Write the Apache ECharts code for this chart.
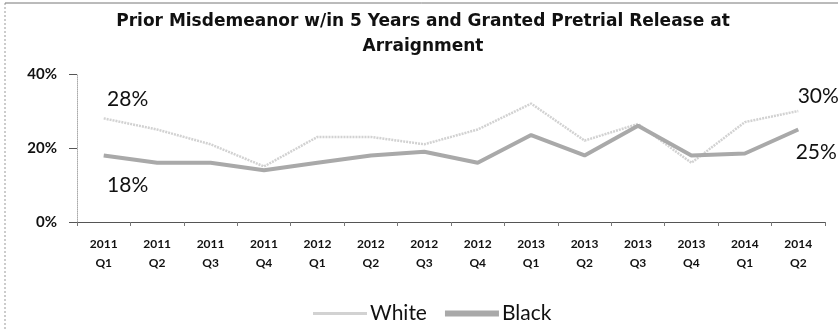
<!DOCTYPE html>
<html><head><meta charset="utf-8">
<script src="https://cdn.jsdelivr.net/npm/echarts@6/dist/echarts.min.js"></script>
<style>html,body{margin:0;padding:0;background:#fff}#c{width:838px;height:329px}</style>
</head><body><div id="c"></div>
<script>
const categories = ['2011\nQ1','2011\nQ2','2011\nQ3','2011\nQ4','2012\nQ1','2012\nQ2','2012\nQ3','2012\nQ4','2013\nQ1','2013\nQ2','2013\nQ3','2013\nQ4','2014\nQ1','2014\nQ2'];
const white = [28, 25, 21, 15, 23, 23, 21, 25, 32, 22, 26.5, 16, 27, 30];
const black = [18, 16, 16, 14, 16, 18, 19, 16, 23.5, 18, 26, 18, 18.5, 25];
const yTicks = [0, 20, 40];
const titleText = 'Prior Misdemeanor w/in 5 Years and Granted Pretrial Release at\nArraignment';

const FONT = 'Lato, "Open Sans", sans-serif';
function withEndLabels(arr, firstPos, lastPos) {
  return arr.map((v, i) => {
    if (i === 0 || i === arr.length - 1) {
      const pos = i === 0 ? firstPos : lastPos;
      return { value: v, label: { show: true, position: pos.p, offset: pos.o,
        formatter: p => Math.round(p.value) + '%', fontSize: 21, color: '#111', fontFamily: FONT } };
    }
    return v;
  });
}
const chart = echarts.init(document.getElementById('c'), null, { renderer: 'canvas' });
chart.setOption({
  animation: false,
  backgroundColor: '#fff',
  title: { text: titleText, left: 418, textAlign: 'center', top: 4,
    textStyle: { fontFamily: '"DejaVu Sans", sans-serif', fontWeight: 'bold', fontSize: 17, lineHeight: 25, color: '#111' } },
  legend: { top: 298, left: 308, itemWidth: 54, itemHeight: 10, itemGap: 18,
    textStyle: { fontFamily: FONT, fontSize: 21, color: '#111', padding: [0, 0, 0, -2] },
    data: [{ name: 'White', icon: 'path://M0,4 L36,4 L36,6 L0,6 Z' }, { name: 'Black', icon: 'path://M0,3 L36,3 L36,7 L0,7 Z' }] },
  grid: { left: 77, right: 13, top: 74, bottom: 107 },
  xAxis: { type: 'category', data: categories, boundaryGap: true,
    axisLine: { lineStyle: { color: '#555', width: 1 } },
    axisTick: { show: true, length: 4, lineStyle: { color: '#777' } },
    axisLabel: { fontFamily: FONT, fontSize: 12, color: '#111', lineHeight: 19, margin: 13, fontWeight: 'bold' } },
  yAxis: { type: 'value', min: 0, max: 40, interval: 20,
    axisLine: { show: true, lineStyle: { color: '#aaa', width: 1, type: 'dotted' } },
    axisTick: { show: true, length: 8, lineStyle: { color: '#555' } },
    splitLine: { show: false },
    axisLabel: { fontFamily: FONT, fontSize: 15, color: '#111', fontWeight: 'bold', margin: 20,
      formatter: v => yTicks.includes(v) ? v + '%' : '' } },
  series: [
    { name: 'White', type: 'line', data: withEndLabels(white, { p: 'top', o: [24, -4] }, { p: 'top', o: [20, 1] }),
      symbol: 'circle', symbolSize: 0.1, showSymbol: true,
      lineStyle: { color: '#d2d2d2', width: 2.5, type: [2, 1] }, itemStyle: { color: '#d2d2d2' } },
    { name: 'Black', type: 'line', data: withEndLabels(black, { p: 'bottom', o: [24, 14] }, { p: 'bottom', o: [18, 7] }),
      symbol: 'circle', symbolSize: 0.1, showSymbol: true,
      lineStyle: { color: '#a9a9a9', width: 4 }, itemStyle: { color: '#a9a9a9' } }
  ],
  graphic: [
    { type: 'line', shape: { x1: 5, y1: 3, x2: 5, y2: 329 }, style: { stroke: '#999', lineWidth: 1, lineDash: [2, 2] } },
    { type: 'line', shape: { x1: 5, y1: 3, x2: 838, y2: 3 }, style: { stroke: '#777', lineWidth: 1 } }
  ]
});
</script></body></html>
